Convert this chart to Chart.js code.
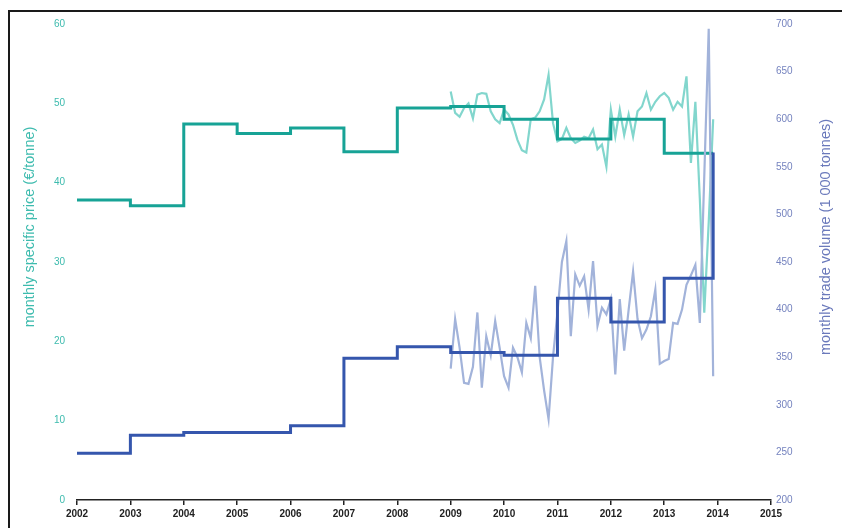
<!DOCTYPE html>
<html lang="en">
<head>
    <meta charset="UTF-8">
    <title>Monthly specific price and trade volume</title>
    <script src="https://cdn.jsdelivr.net/npm/chart.js"></script>
    <style>
        body {
            margin: 0;
            background: #ffffff;
            overflow: hidden;
        }

        #frame {
            position: absolute;
            left: 8px;
            top: 10px;
            width: 900px;
            height: 600px;
            border: 2px solid #1a1a1a;
        }

        #chartBox {
            position: absolute;
            left: 0;
            top: 0;
            width: 842px;
            height: 528px;
        }
    </style>
</head>
<body>
    <div id="frame"></div>
    <div id="chartBox">
        <canvas id="priceChart" width="842" height="528"></canvas>
    </div>

    <script>
        // yearly averages (step lines)
        const years = [2002, 2003, 2004, 2005, 2006, 2007, 2008, 2009, 2010, 2011, 2012, 2013];
        const yearlyPrice = [37.8, 37.1, 47.4, 46.2, 46.9, 43.9, 49.4, 49.6, 48.0, 45.5, 48.0, 43.7];
        const yearlyVolume = [249, 268, 271, 271, 278, 349, 361, 355, 352, 412, 387, 433];
        const stepEnd = 2013 + 11 / 12;
        const volumeStepEnd = 565;

        // monthly values Jan 2009 - Dec 2013
        const monthStart = 2009;
        const monthlyPrice = [
            51.5, 48.8, 48.3, 49.4, 50.0, 48.1, 51.1, 51.3, 51.2, 49.0, 48.0, 47.5,
            49.2, 48.6, 47.3, 45.4, 44.1, 43.8, 48.0, 48.2, 49.0, 50.5, 53.6, 47.5,
            45.2, 45.5, 46.9, 45.6, 45.0, 45.3, 45.8, 45.6, 46.7, 44.2, 44.8, 42.0,
            49.2, 45.8, 49.2, 46.0, 48.6, 45.8, 49.0, 49.6, 51.3, 49.2, 50.2, 50.9,
            51.3, 50.7, 49.2, 50.2, 49.6, 53.4, 42.5, 50.2, 38.0, 23.6, 35.0, 48.0
        ];
        const monthlyVolume = [
            338, 390, 360, 323, 322, 340, 397, 318, 372, 352, 388, 360,
            330, 318, 360, 350, 334, 386, 370, 425, 350, 315, 285, 350,
            397, 450, 472, 372, 437, 425, 435, 400, 451, 383, 402, 395,
            411, 332, 411, 357, 400, 440, 390, 370, 379, 393, 421, 343,
            346, 348, 386, 385, 400, 426, 436, 447, 386, 540, 695, 330
        ];

        const xTicks = [2002, 2015];

        const priceSteps = years.map((y, i) => ({ x: y, y: yearlyPrice[i] }));
        priceSteps.push({ x: stepEnd, y: yearlyPrice[yearlyPrice.length - 1] });
        const volumeSteps = years.map((y, i) => ({ x: y, y: yearlyVolume[i] }));
        volumeSteps.push({ x: stepEnd, y: yearlyVolume[yearlyVolume.length - 1] });
        volumeSteps.push({ x: stepEnd, y: volumeStepEnd });

        const priceMonthly = monthlyPrice.map((v, i) => ({ x: monthStart + i / 12, y: v }));
        const volumeMonthly = monthlyVolume.map((v, i) => ({ x: monthStart + i / 12, y: v }));

        const axisTitles = {
            id: 'axisTitles',
            afterDraw(chart) {
                const c = chart.ctx;
                c.save();
                c.font = '14.5px "Liberation Sans", Arial, sans-serif';
                c.textAlign = 'center';
                c.textBaseline = 'middle';
                c.fillStyle = '#3dbbae';
                c.translate(30, 227);
                c.rotate(-Math.PI / 2);
                c.fillText('monthly specific price (€/tonne)', 0, 0);
                c.restore();

                c.save();
                c.font = '14.5px "Liberation Sans", Arial, sans-serif';
                c.textAlign = 'center';
                c.textBaseline = 'middle';
                c.fillStyle = '#6a79bb';
                c.translate(826, 237);
                c.rotate(-Math.PI / 2);
                c.fillText('monthly trade volume (1 000 tonnes)', 0, 0);
                c.restore();
            }
        };

        const ctx = document.getElementById('priceChart').getContext('2d');

        new Chart(ctx, {
            type: 'line',
            data: {
                datasets: [
                    {
                        label: 'yearly volume',
                        data: volumeSteps,
                        yAxisID: 'yVol',
                        borderColor: '#3556ad',
                        borderWidth: 3,
                        stepped: true,
                        pointRadius: 0
                    },
                    {
                        label: 'monthly volume',
                        data: volumeMonthly,
                        yAxisID: 'yVol',
                        borderColor: '#a2b3da',
                        borderWidth: 2.2,
                        pointRadius: 0
                    },
                    {
                        label: 'yearly price',
                        data: priceSteps,
                        yAxisID: 'yPrice',
                        borderColor: '#17a396',
                        borderWidth: 3,
                        stepped: true,
                        pointRadius: 0
                    },
                    {
                        label: 'monthly price',
                        data: priceMonthly,
                        yAxisID: 'yPrice',
                        borderColor: '#82d6cd',
                        borderWidth: 2.2,
                        pointRadius: 0
                    }
                ]
            },
            options: {
                responsive: false,
                animation: false,
                layout: {
                    padding: { left: 0, right: 0, top: 24, bottom: 0 }
                },
                plugins: {
                    legend: { display: false },
                    tooltip: { enabled: false }
                },
                scales: {
                    x: {
                        type: 'linear',
                        min: xTicks[0],
                        max: xTicks[1],
                        afterFit: (s) => { s.height = 28; },
                        ticks: {
                            stepSize: 1,
                            padding: 3,
                            color: '#222222',
                            font: { family: '"Liberation Sans", Arial, sans-serif', size: 10, weight: 'bold' },
                            maxRotation: 0,
                            callback: (v) => String(v)
                        },
                        grid: {
                            drawOnChartArea: false,
                            drawTicks: true,
                            tickLength: 5,
                            color: '#222222',
                            lineWidth: 1.5
                        },
                        border: { display: true, color: '#222222', width: 1.5 }
                    },
                    yPrice: {
                        position: 'left',
                        min: 0,
                        max: 60,
                        afterFit: (s) => { s.width = 77; },
                        ticks: {
                            stepSize: 10,
                            padding: 12,
                            color: '#3dbbae',
                            font: { family: '"Liberation Sans", Arial, sans-serif', size: 10 }
                        },
                        grid: { display: false, drawTicks: false },
                        border: { display: false }
                    },
                    yVol: {
                        position: 'right',
                        min: 200,
                        max: 700,
                        afterFit: (s) => { s.width = 71; },
                        ticks: {
                            stepSize: 50,
                            padding: 5,
                            color: '#7583bf',
                            font: { family: '"Liberation Sans", Arial, sans-serif', size: 10 }
                        },
                        grid: { display: false, drawTicks: false },
                        border: { display: false }
                    }
                }
            },
            plugins: [axisTitles]
        });
    </script>
</body>
</html>
